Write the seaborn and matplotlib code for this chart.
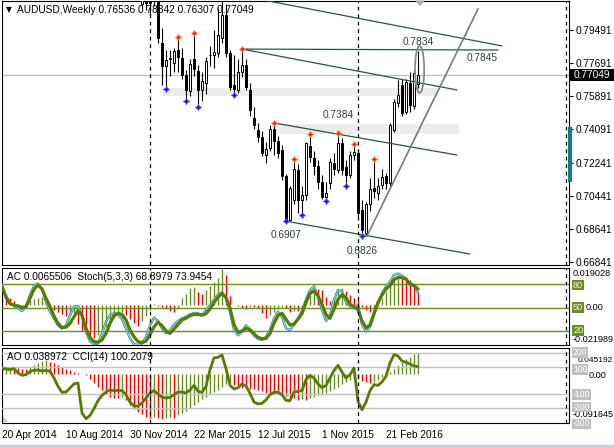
import numpy as np
import pandas as pd
import matplotlib
matplotlib.use("Agg")
import matplotlib.pyplot as plt
import seaborn as sns
from matplotlib.patches import Rectangle, Ellipse, Polygon
from matplotlib.lines import Line2D

# ---------------- data ----------------
first_week = "2014-04-20"
n_weeks = 105
candle_first_bar = 35
c_open = [0.8090, 0.8150, 0.8095, 0.8110, 0.8220, 0.7880, 0.7750, 0.7790, 0.7770, 0.7840,
          0.7796, 0.7704, 0.7617, 0.7790, 0.7726, 0.7622, 0.7660, 0.7810, 0.7810, 0.7823,
          0.7905, 0.8030, 0.7823, 0.7650, 0.7622, 0.7720, 0.7758, 0.7622, 0.7470, 0.7404,
          0.7365, 0.7267, 0.7305, 0.7410, 0.7345, 0.7295, 0.7150, 0.6913, 0.7022, 0.7185,
          0.7022, 0.7049, 0.7316, 0.7250, 0.7207, 0.7120, 0.7038, 0.7114, 0.7225, 0.7185,
          0.7333, 0.7200, 0.7158, 0.7267, 0.7280, 0.6967, 0.6842, 0.7000, 0.7085, 0.7060,
          0.7103, 0.7152, 0.7114, 0.7404, 0.7551, 0.7649, 0.7502, 0.7660, 0.7535, 0.76536]
c_high = [0.8200, 0.8170, 0.8130, 0.8290, 0.8260, 0.7960, 0.7840, 0.7840, 0.7850, 0.7911,
          0.7850, 0.7730, 0.7790, 0.7933, 0.7760, 0.7720, 0.7800, 0.7860, 0.7950, 0.8070,
          0.8163, 0.8090, 0.7840, 0.7810, 0.7790, 0.7845, 0.7790, 0.7660, 0.7530, 0.7440,
          0.7400, 0.7340, 0.7430, 0.7442, 0.7370, 0.7320, 0.7165, 0.7100, 0.7247, 0.7220,
          0.7100, 0.7340, 0.7384, 0.7290, 0.7240, 0.7160, 0.7120, 0.7250, 0.7280, 0.7387,
          0.7360, 0.7240, 0.7290, 0.7327, 0.7300, 0.7020, 0.7010, 0.7140, 0.7246, 0.7140,
          0.7190, 0.7170, 0.7440, 0.7570, 0.7676, 0.7680, 0.7680, 0.7720, 0.7730, 0.78342]
c_low = [0.8070, 0.8060, 0.8033, 0.8080, 0.7880, 0.7650, 0.7627, 0.7700, 0.7720, 0.7720,
         0.7680, 0.7562, 0.7590, 0.7700, 0.7529, 0.7560, 0.7600, 0.7750, 0.7740, 0.7800,
         0.7880, 0.7800, 0.7620, 0.7594, 0.7605, 0.7690, 0.7620, 0.7480, 0.7410, 0.7340,
         0.7260, 0.7224, 0.7290, 0.7267, 0.7250, 0.7130, 0.6907, 0.6910, 0.7000, 0.6950,
         0.6940, 0.7020, 0.7230, 0.7160, 0.7080, 0.7025, 0.7016, 0.7080, 0.7160, 0.7170,
         0.7160, 0.7098, 0.7140, 0.7240, 0.6930, 0.6826, 0.6827, 0.6960, 0.7030, 0.7020,
         0.7080, 0.7080, 0.7100, 0.7390, 0.7530, 0.7480, 0.7490, 0.7500, 0.7520, 0.76307]
c_close = [0.8150, 0.8095, 0.8110, 0.8220, 0.7905, 0.7750, 0.7785, 0.7796, 0.7835, 0.7800,
           0.7705, 0.7622, 0.7764, 0.7736, 0.7622, 0.7671, 0.7780, 0.7815, 0.7830, 0.7922,
           0.8030, 0.7823, 0.7638, 0.7625, 0.7720, 0.7757, 0.7640, 0.7513, 0.7430, 0.7365,
           0.7278, 0.7300, 0.7410, 0.7345, 0.7280, 0.7150, 0.6915, 0.7087, 0.7191, 0.7022,
           0.7049, 0.7333, 0.7256, 0.7207, 0.7120, 0.7038, 0.7060, 0.7229, 0.7190, 0.7333,
           0.7185, 0.7158, 0.7267, 0.7283, 0.6951, 0.6858, 0.7000, 0.7082, 0.7070, 0.7098,
           0.7147, 0.7114, 0.7431, 0.7556, 0.7595, 0.7496, 0.7665, 0.7540, 0.7715, 0.77049]
fractal_up_bars = [44, 48, 60, 68, 73, 77, 84, 88, 93]
fractal_down_bars = [41, 46, 49, 58, 71, 75, 81, 86, 90]

ac_values = [0.0102, 0.0056, 0.0039, 0.0021, 0.0007, -0.0005, 0.0018, 0.0028, 0.0034, 0.0038,
             0.0040, 0.0014, -0.0012, -0.0025, -0.0035, -0.0048, -0.0058, -0.0050, -0.0044, -0.0100,
             -0.0138, -0.0155, -0.0165, -0.0172, -0.0158, -0.0140, -0.0114, -0.0088, -0.0070, -0.0052,
             -0.0036, -0.0055, -0.0075, -0.0095, -0.0110, -0.0082, -0.0058, -0.0025, 0.0004, -0.0006,
             -0.0012, -0.0020, -0.0030, -0.0036, -0.0015, 0.0035, 0.0060, 0.0088, 0.0096, 0.0070,
             0.0060, 0.0080, 0.0098, 0.0120, 0.0140, 0.0190, 0.0160, 0.0045, -0.0002, -0.0005,
             -0.0014, -0.0023, -0.0010, -0.0012, -0.0018, -0.0044, -0.0066, -0.0052, -0.0035, -0.0020,
             -0.0008, -0.0015, -0.0035, -0.0030, -0.0032, -0.0018, 0.0030, 0.0070, 0.0100, 0.0085,
             0.0078, 0.0040, 0.0020, 0.0045, 0.0078, 0.0090, 0.0075, 0.0055, 0.0035, 0.0030,
             -0.0010, -0.0026, -0.0035, -0.0018, 0.0005, 0.0035, 0.0070, 0.0105, 0.0140, 0.0158,
             0.0150, 0.0140, 0.0130, 0.0095, 0.0065506]
stoch_main = [80, 62, 55, 52, 49, 45.5, 51, 66, 78, 81,
              74, 57.5, 44.5, 36, 27, 23, 27, 40, 51, 52,
              40, 19, 6, 2.5, 3.5, 16.5, 31.6, 40, 42.5, 41,
              35, 23, 10, 2.5, 1.5, 3.5, 12, 27, 37, 32.5,
              23, 16.5, 21, 28, 32.5, 36, 38, 41, 43, 42.5,
              40, 47, 53, 60, 67, 69.6, 62, 44.6, 21, 14,
              18.7, 27, 22, 13.5, 9.6, 8, 12, 21, 36, 44.6,
              38, 23, 20.5, 28, 36, 45.5, 60, 72.7, 77.4, 64,
              46.8, 32.5, 40, 60, 72.7, 71, 56.7, 51, 49, 53.2,
              28, 18.7, 25, 40.3, 54.5, 68.3, 77, 83.5, 92, 94,
              91.2, 87, 81.3, 79, 68.8979]
stoch_signal = [76.5, 64, 55, 53, 52, 50, 51, 62, 73.5, 79,
                74, 62, 51, 39, 29.5, 24, 24.5, 29.5, 38, 46,
                40, 23, 11, 6, 5, 8, 16.5, 29.5, 39.5, 42.5,
                41, 34, 21, 12, 6, 4.5, 6.5, 15, 25, 31,
                26.5, 19.5, 16.5, 22, 28, 34, 36, 39.5, 41, 41,
                40, 42, 48, 56.5, 63.5, 68, 63, 49, 28, 18,
                19.5, 23, 21, 16, 11.5, 9.6, 10, 16.5, 29.5, 39.5,
                42.5, 34.7, 27.3, 28.6, 34.7, 42, 56.7, 68.3, 71.4, 65.3,
                54, 41, 36, 47.8, 60.6, 66.6, 62.7, 54, 51, 47.2,
                32.5, 24, 27.3, 42.5, 56.7, 66.2, 74, 78.3, 86, 89,
                88.6, 87, 80, 78.3, 73.9454]
ao_values = [0.010, 0.012, 0.013, 0.012, 0.011, 0.010, 0.009, 0.013, 0.017, 0.021,
             0.024, 0.026, 0.023, 0.020, 0.016, 0.013, 0.010, 0.007, 0.005, 0.003,
             0.001, -0.002, -0.008, -0.015, -0.022, -0.028, -0.035, -0.040, -0.042, -0.043,
             -0.041, -0.047, -0.055, -0.062, -0.068, -0.072, -0.076, -0.078, -0.077, -0.079,
             -0.080, -0.078, -0.077, -0.078, -0.074, -0.070, -0.066, -0.060, -0.055, -0.050,
             -0.045, -0.040, -0.035, -0.031, -0.028, -0.022, -0.018, -0.016, -0.019, -0.022,
             -0.024, -0.025, -0.026, -0.027, -0.028, -0.030, -0.033, -0.034, -0.035, -0.036,
             -0.037, -0.039, -0.041, -0.043, -0.047, -0.045, -0.047, -0.043, -0.040, -0.037,
             -0.035, -0.033, -0.030, -0.026, -0.022, -0.018, -0.014, -0.010, -0.007, -0.009,
             -0.012, -0.014, -0.015, -0.013, -0.010, -0.005, 0.001, 0.005, 0.010, 0.016,
             0.022, 0.028, 0.032, 0.036, 0.038972]
cci_values = [85, 83, 78, 85, 54, 37, 42, 66, 73, 76,
              68, 73, 66, 18, -42, -85, -83, -54, -25, -18,
              -234, -275, -251, -203, -145, -107, -83, -68, -73, -71,
              -73, -102, -155, -184, -184, -162, -126, -90, -73, -97,
              -121, -126, -121, -102, -83, -83, -90, -68, -35, -78,
              -85, -42, 78, 162, 167, 184, 85, -35, -61, -52,
              -25, -40, -92, -155, -169, -164, -140, -102, -85, -85,
              -102, -143, -145, -83, -78, -73, 6, 37, 18, -25,
              -52, -35, 18, 71, 109, 61, 18, 42, 90, -150,
              -210, -155, -73, -30, -35, -11, 30, 126, 186, 176,
              140, 131, 119, 104, 100.2079]

price_ticks = [0.79491, 0.77691, 0.75891, 0.74091, 0.72241, 0.70441, 0.68641, 0.66841]
last_price = 0.77049
stoch_levels = [80, 50, 20]
cci_levels = [200, 100, -100, -200, -300]
ac_scale_labels = ["0.019028", "0.00", "-0.021989"]
ao_scale_labels = ["0.045192", "0.00", "-0.091645"]
separator_bars = [37, 89, 141]
# chart objects anchored at (bar, price)
channel_lines = [[(65, 0.8114), (125, 0.7862)],
                 [(59.75, 0.7845), (124, 0.7840)],
                 [(60, 0.7845), (113.75, 0.7622)],
                 [(68, 0.7442), (113.75, 0.7267)],
                 [(70.75, 0.6907), (117, 0.6727)]]
rising_line = [(91.25, 0.6825), (119, 0.8064)]
zones = [(40, 109, 0.7589, 0.7633), (67.75, 114.25, 0.7382, 0.7436)]
price_notes = [("0.7834", 104, 0.7884), ("0.7845", 120, 0.7796), ("0.7384", 84, 0.7485),
               ("0.6907", 71, 0.6831), ("0.6826", 90, 0.6743)]
highlight = (104.4, 0.7734, 2.3, 0.0256)

# ---------------- style ----------------
sns.set_theme(style="white")
plt.rcParams['font.family'] = ['Liberation Sans', 'DejaVu Sans']
plt.rcParams['axes.edgecolor'] = 'black'
plt.rcParams['axes.linewidth'] = 0.8

W, H = 614, 447
fig = plt.figure(figsize=(W / 100, H / 100), dpi=100)
fig.patch.set_facecolor('white')

def rect(x0, y0, x1, y1):
    return [x0 / W, 1 - y1 / H, (x1 - x0) / W, (y1 - y0) / H]

FS = 7.3
SFS = 6.6
OLIVE_BAR = '#6B8E23'
OLIVE_LINE = '#557C05'
XMAX = 141.75
bars = np.arange(n_weeks)
weeks = pd.date_range(first_week, periods=n_weeks, freq="7D")

ax1 = fig.add_axes(rect(2, 1, 569, 265))
ax2 = fig.add_axes(rect(2, 268, 569, 345))
ax3 = fig.add_axes(rect(2, 348, 569, 423))
for ax in (ax1, ax2, ax3):
    ax.set_xlim(0, XMAX)
    ax.set_facecolor('white')
    for s in ax.spines.values():
        s.set_color('black'); s.set_linewidth(0.8)

# ---------------- main price panel ----------------
ax1.set_ylim(0.66671, 0.81073)
for (b0, b1, p0, p1) in zones:
    ax1.add_patch(Rectangle((b0, p0), b1 - b0, p1 - p0, fc='#ECECEC', ec='none', zorder=0))
ax1.axhline(last_price, color='#BEBEBE', lw=0.9, zorder=1)

xc = np.arange(candle_first_bar, candle_first_bar + len(c_open))
o = np.array(c_open); h = np.array(c_high); l = np.array(c_low); c = np.array(c_close)
ax1.vlines(xc, l, h, color='black', lw=0.8, zorder=3)
up = c >= o
ax1.bar(xc[up], (c - o)[up], bottom=o[up], width=0.72, color='white', edgecolor='black', linewidth=0.7, zorder=4)
ax1.bar(xc[~up], (o - c)[~up], bottom=c[~up], width=0.72, color='black', edgecolor='black', linewidth=0.7, zorder=4)

fu = np.array(fractal_up_bars); fd = np.array(fractal_down_bars)
ax1.plot(fu, h[fu - candle_first_bar], ls='none', marker=(4, 1, 0), ms=4.5, color='#FF1500', mec='#FF8C40', mew=0.5, zorder=6)
ax1.plot(fd, l[fd - candle_first_bar], ls='none', marker=(4, 1, 0), ms=4.5, color='#1010E0', mec='#5050FF', mew=0.5, zorder=6)

for seg in channel_lines:
    (b0, p0), (b1, p1) = seg
    ax1.plot([b0, b1], [p0, p1], color='#2F4F4F', lw=0.9, zorder=5)
(b0, p0), (b1, p1) = rising_line
ax1.plot([b0, b1], [p0, p1], color='#6E7D7D', lw=1.2, zorder=5)
ex, ey, ew, eh = highlight
ax1.add_patch(Ellipse((ex, ey), ew, eh, fill=False, ec='#7F8C8C', lw=1.3, zorder=6))
for txt, b, p in price_notes:
    ax1.text(b, p, txt, ha='center', va='center', fontsize=FS, color='#2F3F3F', zorder=7)

ax1.yaxis.tick_right()
ax1.set_yticks(price_ticks)
ax1.set_yticklabels([f"{v:.5f}" for v in price_ticks])
ax1.tick_params(axis='y', direction='out', length=3, width=0.8, pad=1.5, labelsize=FS, colors='black')
ax1.set_xticks([])

# ---------------- AC + Stochastic panel ----------------
ac = np.array(ac_values)
ac_up = np.r_[False, np.diff(ac) > 0]
ax2.set_ylim(-0.02104, 0.01946)
ax2.vlines(bars, 0, ac, colors=np.where(ac_up, OLIVE_BAR, '#FF0000'), lw=1.0, zorder=2)
ax2.set_xticks([]); ax2.set_yticks([])
ax2s = ax2.twinx()
ax2s.set_xlim(0, XMAX)
ax2s.set_ylim(1.5, 101.1)
for lev in stoch_levels:
    ax2s.axhline(lev, color=OLIVE_BAR, lw=1.0, zorder=1)
sns.lineplot(x=bars, y=stoch_main, ax=ax2s, color='#2A8C8C', linewidth=1.7, legend=False, zorder=3)
sns.lineplot(x=bars, y=stoch_main, ax=ax2s, color='#E6F4F4', linewidth=0.45, legend=False, zorder=3)
sns.lineplot(x=bars, y=stoch_signal, ax=ax2s, color=OLIVE_LINE, linewidth=2.3, legend=False, zorder=4)
ax2s.set_yticks([]); ax2s.set_ylabel('')
for s in ax2s.spines.values():
    s.set_visible(False)

# ---------------- AO + CCI panel ----------------
ao = np.array(ao_values)
ao_up = np.r_[True, np.diff(ao) > 0]
ax3.set_ylim(-0.0877, 0.0473)
ax3.vlines(bars, 0, ao, colors=np.where(ao_up, OLIVE_BAR, '#FF0000'), lw=1.0, zorder=2)
ax3.set_yticks([])
ax3c = ax3.twinx()
ax3c.set_xlim(0, XMAX)
ax3c.set_ylim(-305.8, 233.8)
for lev in cci_levels[:4]:
    ax3c.axhline(lev, color='#C0C0C0', lw=1.0, zorder=1)
sns.lineplot(x=bars, y=cci_values, ax=ax3c, color=OLIVE_LINE, linewidth=2.0, legend=False, zorder=3)
ax3c.set_yticks([]); ax3c.set_ylabel('')
for s in ax3c.spines.values():
    s.set_visible(False)

label_bars = bars[::16]
ax3.set_xticks(label_bars)
ax3.set_xticklabels([f"{d.day} {d.strftime('%b %Y')}" for d in weeks[::16]], ha='left')
ax3.tick_params(axis='x', direction='out', length=3, width=0.8, pad=2, labelsize=FS, colors='black')

# separators
for axx in (ax1, ax2s, ax3c):
    for sb in separator_bars:
        axx.axvline(sb, color='black', lw=0.9, ls=(0, (3, 3)), zorder=8)

# ---------------- texts and decorations ----------------
fig.text(6 / W, 1 - 10 / H, "\u25bc", fontsize=5.5, family='DejaVu Sans', va='center', ha='left', color='black')
fig.text(17 / W, 1 - 10 / H, "AUDUSD,Weekly 0.76536 0.78342 0.76307 0.77049", fontsize=FS,
         va='center', ha='left', color='black', zorder=20)
fig.text(7 / W, 1 - 277 / H, "AC 0.0065506  Stoch(5,3,3) 68.8979 73.9454", fontsize=FS,
         va='center', ha='left', color='black', zorder=20)
fig.text(7 / W, 1 - 357 / H, "AO 0.038972  CCI(14) 100.2079", fontsize=FS,
         va='center', ha='left', color='black', zorder=20)

# current price box and teal axis marker
fig.add_artist(Rectangle((569 / W, 1 - 81 / H), 45 / W, 12 / H, transform=fig.transFigure, fc='black', ec='none'))
fig.text(574 / W, 1 - 75 / H, f"{last_price:.5f}", fontsize=FS, color='white', va='center', ha='left')
fig.add_artist(Rectangle((568 / W, 1 - 182 / H), 4 / W, 55 / H, transform=fig.transFigure, fc='#0E8080', ec='none'))
fig.add_artist(Polygon([(415 / W, 1 - 0.5 / H), (425 / W, 1 - 0.5 / H), (420 / W, 1 - 6 / H)],
                       closed=True, transform=fig.transFigure, fc='#A8A8A8', ec='none'))
fig.add_artist(Polygon([(2.5 / W, 1 - 416 / H), (2.5 / W, 1 - 422 / H), (8 / W, 1 - 422 / H)],
                       closed=True, transform=fig.transFigure, fc='#C8C8C8', ec='none'))

def side_text(x, y, s, box=None, tc='black', fs=SFS, z=30):
    kw = dict(fontsize=fs, va='center', ha='left', color=tc, zorder=z)
    if box is not None:
        kw['bbox'] = dict(boxstyle='square,pad=0.08', fc=box, ec='none')
    fig.text(x / W, 1 - y / H, s, **kw)

# AC / Stoch scale
side_text(573, 274, ac_scale_labels[0])
side_text(586, 307.5, ac_scale_labels[1])
side_text(573, 339, ac_scale_labels[2])
for lev, y in zip(stoch_levels, [285, 307.5, 330.5]):
    side_text(573, y, str(lev), box=OLIVE_BAR, tc='#F4F4E0', z=31)
# AO / CCI scale
side_text(578, 361, ao_scale_labels[0], fs=6.0)
side_text(589, 376, ao_scale_labels[1])
side_text(573, 414.5, ao_scale_labels[2])
for lev, y in zip(cci_levels, [352.5, 369.5, 394.5, 407, 424]):
    side_text(573, y, str(lev), box='#C0C0C0', tc='white', fs=6.2, z=31)

fig.add_artist(Line2D([0, 1], [1 - 445.5 / H] * 2, transform=fig.transFigure, color='#A9D2F0', lw=1.6))

fig.savefig("out.png", dpi=100, facecolor='white')
